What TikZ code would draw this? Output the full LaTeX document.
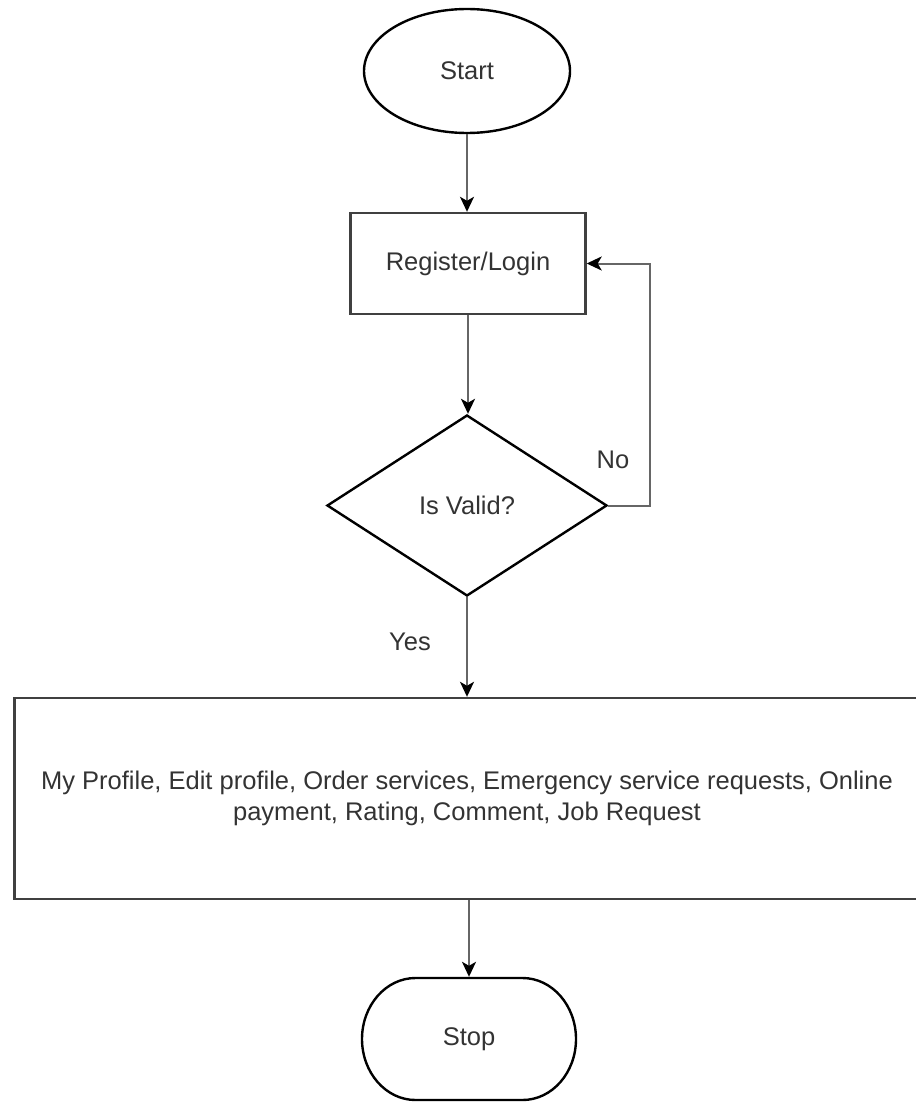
\documentclass[tikz,border=0pt]{standalone}
\usepackage{fontspec}
\setmainfont{Liberation Sans}
\usetikzlibrary{shapes.geometric,arrows.meta}
\definecolor{txt}{HTML}{333333}
\definecolor{ln}{HTML}{666666}
\tikzset{
  shapeline/.style={draw=black,line width=2.4pt,fill=white,text=txt,inner sep=0pt,font=\fontsize{25.5}{31}\selectfont},
  outline/.style={draw=black,line width=2.4pt},
  conn/.style={draw=ln,line width=2pt,-{Stealth[length=15pt,width=14pt,inset=4pt,black]}},
  lbl/.style={text=txt,font=\fontsize{25.5}{31}\selectfont,inner sep=0pt}
}
\begin{document}
\begin{tikzpicture}[x=1pt,y=-1pt]
\useasboundingbox (0,0) rectangle (915,1102);
\fill[white] (0,0) rectangle (915,1102);
\node[shapeline,ellipse,minimum width=206pt,minimum height=124pt] (start) at (467,71) {Start};
\node[shapeline,rectangle,draw=black!75,minimum width=235pt,minimum height=101pt] (reg) at (468,263.5) {Register/Login};
\node[shapeline,diamond,minimum width=280pt,minimum height=181pt] (dia) at (467,505.5) {Is Valid?};
\node[shapeline,rectangle,draw=black!75,minimum width=905pt,minimum height=201pt,align=center] (big) at (467,798.5)
  {My Profile, Edit profile, Order services, Emergency service requests, Online\\payment, Rating, Comment, Job Request};
\draw[outline] (415.5,978) -- (522.5,978)
  .. controls (552.05,978) and (576,1005.31) .. (576,1039)
  .. controls (576,1072.69) and (552.05,1100) .. (522.5,1100)
  -- (415.5,1100)
  .. controls (385.95,1100) and (362,1072.69) .. (362,1039)
  .. controls (362,1005.31) and (385.95,978) .. (415.5,978) -- cycle;
\node[shapeline,rectangle,draw=none,fill=none,minimum width=214pt,minimum height=122pt] (stop) at (469,1039) {Stop};
\coordinate (loopc) at (650,263.5);
\draw[conn] (start.south) -- (start.south |- reg.north);
\draw[conn] (reg.south) -- (reg.south |- dia.north);
\draw[conn] (dia.east) -| (loopc) -- (reg.east);
\draw[conn] (dia.south) -- (dia.south |- big.north);
\draw[conn] (big.south -| stop.north) -- (stop.north);
\node[lbl] (no) at (613,460) {No};
\node[lbl] (yes) at (410,642) {Yes};
\end{tikzpicture}
\end{document}
